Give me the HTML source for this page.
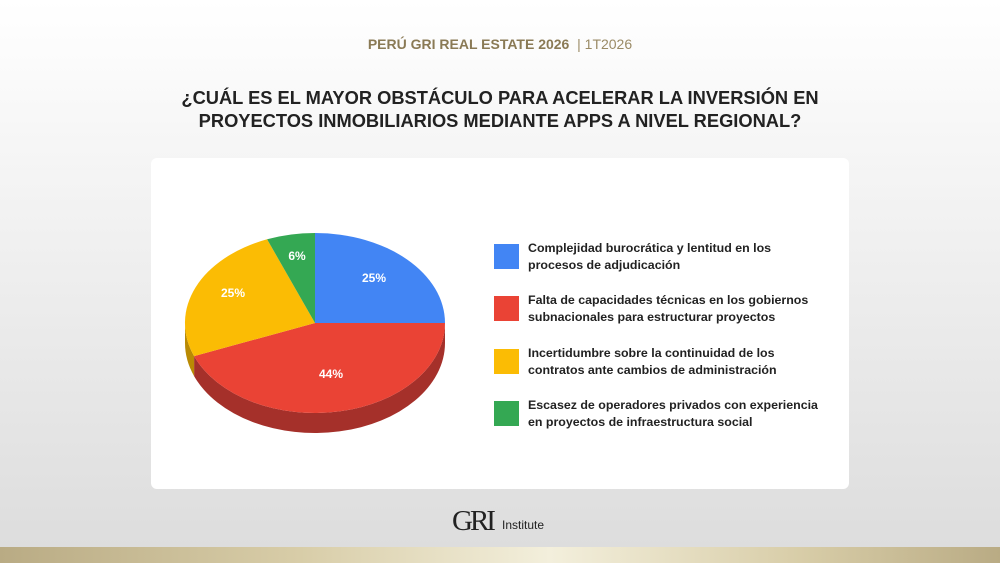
<!DOCTYPE html>
<html><head><meta charset="utf-8"><style>
html,body{margin:0;padding:0}
body{width:1000px;height:563px;position:relative;overflow:hidden;background:linear-gradient(#ffffff 0%,#f1f1f1 40%,#dcdcdc 100%);font-family:"Liberation Sans",sans-serif}
.hdr{position:absolute;top:36px;left:0;width:1000px;text-align:center;font-size:14px;color:#8a7a55;font-weight:bold}
.hdr span{font-weight:normal;color:#9a8a65}
.title{position:absolute;top:86px;left:0;width:1000px;text-align:center;font-size:18.3px;font-weight:bold;color:#222;line-height:23px}
.card{position:absolute;left:151px;top:158px;width:698px;height:331px;background:#fff;border-radius:6px}
.lg{position:absolute;left:494px;font-size:12.4px;font-weight:bold;color:#222;line-height:17px}
.lg i{position:absolute;left:0;top:0;width:25px;height:25px}
.lg div{position:absolute;left:34px;top:-4px;width:320px}
.bar{position:absolute;left:0;top:547px;width:1000px;height:16px;background:linear-gradient(90deg,#b9ab84,#d8cda8 30%,#f3efdc 55%,#d8cda8 80%,#b9ab84)}
.logo{position:absolute;top:505px;left:452px;font-family:"Liberation Serif",serif;font-size:29px;color:#222;letter-spacing:-3px}
.inst{position:absolute;top:518px;left:502px;font-size:12px;color:#222}
</style></head><body>
<div class="hdr">PERÚ GRI REAL ESTATE 2026 &nbsp;<span>| 1T2026</span></div>
<div class="title">¿CUÁL ES EL MAYOR OBSTÁCULO PARA ACELERAR LA INVERSIÓN EN<br>PROYECTOS INMOBILIARIOS MEDIANTE APPS A NIVEL REGIONAL?</div>
<div class="card"></div>
<svg width="1000" height="563" style="position:absolute;left:0;top:0">
<path d="M445,323 L445,343 A130,90 0 0 1 194.1,376.1 L194.1,356.1 A130,90 0 0 0 445,323 Z" fill="#a5302a"/>
<path d="M185,323 L185,343 A130,90 0 0 0 194.1,376.1 L194.1,356.1 A130,90 0 0 1 185,323 Z" fill="#b98a04"/>
<path d="M315,323 L315,233 A130,90 0 0 1 445,323 Z" fill="#4285f4"/>
<path d="M315,323 L445,323 A130,90 0 0 1 194.1,356.1 Z" fill="#ea4335"/>
<path d="M315,323 L194.1,356.1 A130,90 0 0 1 267.1,239.3 Z" fill="#fbbc04"/>
<path d="M315,323 L267.1,239.3 A130,90 0 0 1 315,233 Z" fill="#34a853"/>
<g fill="#fff" font-family="Liberation Sans" font-weight="bold" font-size="12" text-anchor="middle">
<text x="374" y="282">25%</text><text x="297" y="260">6%</text><text x="233" y="297">25%</text><text x="331" y="378">44%</text>
</g>
</svg>
<div class="lg" style="top:244px"><i style="background:#4285f4"></i><div>Complejidad burocrática y lentitud en los<br>procesos de adjudicación</div></div>
<div class="lg" style="top:296px"><i style="background:#ea4335"></i><div>Falta de capacidades técnicas en los gobiernos<br>subnacionales para estructurar proyectos</div></div>
<div class="lg" style="top:349px"><i style="background:#fbbc04"></i><div>Incertidumbre sobre la continuidad de los<br>contratos ante cambios de administración</div></div>
<div class="lg" style="top:401px"><i style="background:#34a853"></i><div>Escasez de operadores privados con experiencia<br>en proyectos de infraestructura social</div></div>
<div class="logo">GRI</div><div class="inst">Institute</div>
<div class="bar"></div>
</body></html>
